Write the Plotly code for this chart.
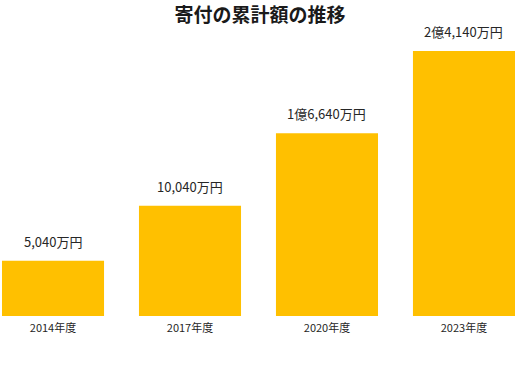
import plotly.graph_objects as go

categories = ["2014年度", "2017年度", "2020年度", "2023年度"]
values = [5040, 10040, 16640, 24140]  # 万円
value_labels = ["5,040万円", "10,040万円", "1億6,640万円", "2億4,140万円"]

FONT = "Noto Sans CJK JP"
BAR_COLOR = "#FFC000"

fig = go.Figure(
    go.Bar(
        x=categories,
        y=values,
        marker=dict(color=BAR_COLOR, line=dict(width=0)),
        hoverinfo="skip",
    )
)

for c, v, t in zip(categories, values, value_labels):
    fig.add_annotation(
        x=c, y=v, text=t, showarrow=False,
        xref="x", yref="y", yanchor="bottom", yshift=8,
        font=dict(family=FONT, size=13, color="#262626"),
    )

fig.update_layout(
    width=520, height=380,
    margin=dict(l=0, r=0, t=40, b=64),
    paper_bgcolor="white", plot_bgcolor="white",
    bargap=0.255,
    showlegend=False,
    title=dict(
        text="<b>寄付の累計額の推移</b>",
        x=0.5, xanchor="center", y=1 - 15 / 380, yanchor="middle",
        font=dict(family=FONT, size=19, color="#1a1a1a"),
    ),
    xaxis=dict(
        type="category", range=[-0.387, 3.409],
        showgrid=False, zeroline=False, showline=False, ticks="",
        ticklabelstandoff=4,
        tickfont=dict(family=FONT, size=11, color="#262626"),
    ),
    yaxis=dict(
        range=[0, 25141], visible=False, showgrid=False, zeroline=False,
    ),
)

fig.write_html(
    "out.html",
    config={"displayModeBar": False},
    post_script="document.body.style.margin='0';",
)
